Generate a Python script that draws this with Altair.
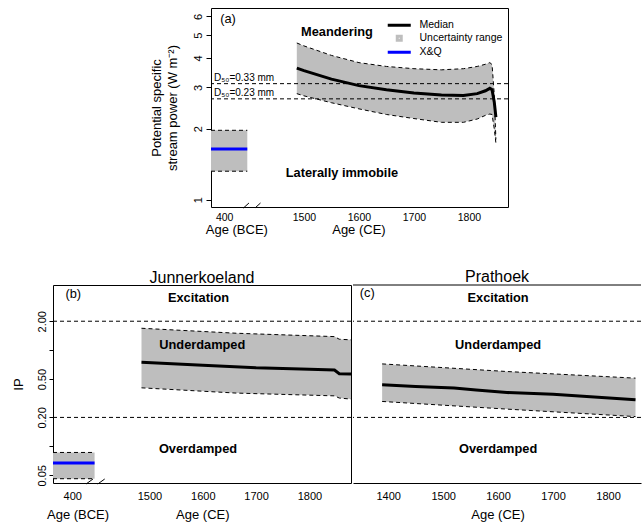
import altair as alt
import pandas as pd

FONT = "Liberation Sans"
GREY = "#BEBEBE"
DASH = [4, 3]
BCE_TICK = 1355   # axis position used for the 400 BCE reach
BCE_END = 1397    # right edge of the 400 BCE block

# ---- (a) potential specific stream power (W m-2) ----
sp_years = [1487, 1500, 1550, 1600, 1650, 1700, 1750, 1790, 1815, 1830, 1838, 1842, 1846, 1849]
sp_median = [3.62, 3.53, 3.25, 3.05, 2.93, 2.84, 2.78, 2.77, 2.82, 2.90, 2.97, 2.93, 2.60, 2.24]
sp_upper = [4.63, 4.50, 4.10, 3.82, 3.68, 3.60, 3.56, 3.60, 3.68, 3.76, 3.82, 3.75, 2.80, 1.80]
sp_lower = [2.82, 2.76, 2.58, 2.43, 2.30, 2.21, 2.13, 2.13, 2.20, 2.28, 2.31, 2.30, 2.00, 1.74]
sp_xq = [1.97, 1.64, 1.32]            # upper, X&Q value, lower
d50_values = [3.11, 2.68]
d50_labels = ["D\u2085\u2080=0.33 mm", "D\u2085\u2080=0.23 mm"]
sp_ticks = [1, 2, 3, 4, 5, 6]

# ---- (b) Junnerkoeland IP ----
jk_band_years = [1485, 1663, 1847, 1856, 1878]
jk_upper = [1.69, 1.50, 1.384, 1.30, 1.28]
jk_lower = [0.406, 0.358, 0.335, 0.318, 0.31]
jk_med_years = [1485, 1600, 1700, 1800, 1847, 1856, 1878]
jk_median = [0.747, 0.698, 0.655, 0.634, 0.622, 0.570, 0.566]
jk_xq = [0.0864, 0.067, 0.0461]

# ---- (c) Prathoek IP ----
pr_band_years = [1389, 1616, 1850]
pr_upper = [0.72, 0.60, 0.512]
pr_lower = [0.293, 0.244, 0.204]
pr_med_years = [1389, 1450, 1520, 1560, 1616, 1700, 1850]
pr_median = [0.436, 0.420, 0.405, 0.385, 0.363, 0.348, 0.305]

ip_thresholds = [2.0, 0.2]
ip_ticks = [0.05, 0.1, 0.2, 0.5, 1, 2]

legend_names = ["Median", "Uncertainty range", "X&Q"]
legend_colors = ["black", GREY, "blue"]
LINE_PATH = "M-3.29,0L3.29,0"
SQUARE_PATH = "M-0.57,-0.57L0.57,-0.57L0.57,0.57L-0.57,0.57Z"

W_A, H_A = 297, 199
W_B, H_B = 298, 198
W_C = 288

bce_expr = f"datum.value == {BCE_TICK} ? '400' : datum.label"


class Panel:
    """Shared scales and axes for every layer of one panel."""

    def __init__(self, xs, ys, xax, yax):
        self.xs, self.ys, self.xax, self.yax = xs, ys, xax, yax

    def X(self, field):
        return alt.X(field, type="quantitative", scale=self.xs, axis=self.xax)

    def Y(self, field):
        return alt.Y(field, type="quantitative", scale=self.ys, axis=self.yax)

    def band(self, years_b, upper, lower, years_m, median):
        dfb = pd.DataFrame({"year": years_b, "upper": upper, "lower": lower})
        dfm = pd.DataFrame({"year": years_m, "median": median})
        area = alt.Chart(dfb).mark_area(color=GREY, clip=True).encode(
            x=self.X("year"), y=self.Y("lower"), y2="upper:Q")
        edges = [
            alt.Chart(dfb).mark_line(color="black", strokeDash=DASH, strokeWidth=1, clip=True).encode(
                x=self.X("year"), y=self.Y(f))
            for f in ("upper", "lower")
        ]
        med = alt.Chart(dfm).mark_line(color="black", strokeWidth=3, clip=True).encode(
            x=self.X("year"), y=self.Y("median"))
        return [area] + edges + [med]

    def xq_block(self, x0, vals):
        df = pd.DataFrame({"x0": [x0], "x1": [BCE_END], "upper": [vals[0]], "mid": [vals[1]],
                           "lower": [vals[2]]})
        rect = alt.Chart(df).mark_rect(color=GREY).encode(
            x=self.X("x0"), x2="x1:Q", y=self.Y("lower"), y2="upper:Q")
        lines = [
            alt.Chart(df).mark_rule(color="black", strokeDash=DASH, strokeWidth=1).encode(
                x=self.X("x0"), x2="x1:Q", y=self.Y(f))
            for f in ("upper", "lower")
        ]
        blue = alt.Chart(df).mark_rule(color="blue", strokeWidth=3).encode(
            x=self.X("x0"), x2="x1:Q", y=self.Y("mid"))
        return [rect] + lines + [blue]

    def hlines(self, values):
        return alt.Chart(pd.DataFrame({"v": values})).mark_rule(
            color="black", strokeDash=DASH, strokeWidth=1).encode(y=self.Y("v"))

    def breaks(self, starts, width, h):
        df = pd.DataFrame({"x0": starts, "x1": [s + width for s in starts]})
        return alt.Chart(df).mark_rule(color="black", strokeWidth=1).encode(
            x=self.X("x0"), x2="x1:Q", y=alt.value(h + 1), y2=alt.value(h - 4))

    def texts(self, labels, xv, yv, weight, size=12.8):
        df = pd.DataFrame({"t": labels, "x": xv, "y": yv})
        return alt.Chart(df).mark_text(font=FONT, fontSize=size, fontWeight=weight, align="center",
                                       baseline="middle", color="black").encode(
            x=self.X("x"), y=self.Y("y"), text="t:N")

    def age_titles(self, labels, xv, ypix):
        df = pd.DataFrame({"t": labels, "x": xv})
        return alt.Chart(df).mark_text(font=FONT, fontSize=13, baseline="middle", color="black").encode(
            x=self.X("x"), y=alt.value(ypix), text="t:N")


# ---------- panel (a) ----------
pa = Panel(
    alt.Scale(domain=[1331, 1871], nice=False, zero=False),
    alt.Scale(type="log", domain=[0.93, 6.52], nice=False),
    alt.Axis(values=[BCE_TICK, 1500, 1600, 1700, 1800], format="d", labelExpr=bce_expr,
             ticks=False, tickSize=0, domain=False, labelPadding=5.5, labelFontSize=10.5, title=""),
    alt.Axis(values=sp_ticks, format="d", labelAngle=270, labelAlign="center", labelBaseline="bottom",
             tickSize=5, labelPadding=3, domain=False,
             title=["Potential specific", "stream power (W m\u207b\u00b2)"],
             titlePadding=13, titleLineHeight=16),
)

legend_spec = alt.Legend(title=" ", titleFontSize=4, titlePadding=3, orient="top-right", offset=5,
                         padding=0, rowPadding=-2, labelFont=FONT, labelFontSize=10.5, labelOffset=15,
                         symbolSize=49, symbolStrokeWidth=3)
legend_layer = alt.Chart(pd.DataFrame({"series": legend_names})).transform_filter("false").mark_point(
    filled=False, opacity=1).encode(
    color=alt.Color("series:N", scale=alt.Scale(domain=legend_names, range=legend_colors), legend=legend_spec),
    shape=alt.Shape("series:N", scale=alt.Scale(domain=legend_names, range=[LINE_PATH, SQUARE_PATH, LINE_PATH]),
                    legend=legend_spec),
)

d50_text = alt.Chart(pd.DataFrame({"t": d50_labels, "v": d50_values})).mark_text(
    font=FONT, fontSize=10, align="left", baseline="bottom", dy=-1, color="black").encode(
    x=alt.value(3), y=pa.Y("v"), text="t:N")

panel_a = alt.layer(
    *pa.band(sp_years, sp_upper, sp_lower, sp_years, sp_median),
    *pa.xq_block(1331, sp_xq),
    pa.hlines(d50_values),
    d50_text,
    pa.breaks([1390, 1411], 10, H_A),
    pa.texts(["(a)"], [1362], [5.87], "normal"),
    pa.texts(["Meandering", "Laterally immobile"], [1560, 1569], [5.17, 1.30], "bold"),
    pa.age_titles(["Age (BCE)", "Age (CE)"], [1378, 1600], H_A + 22.5),
    legend_layer,
).properties(width=W_A, height=H_A)

spacer = alt.Chart(pd.DataFrame({"s": [0]})).mark_point(opacity=0, size=1).properties(
    width=96, height=10, view=alt.ViewBackground(strokeOpacity=0))

# ---------- panel (b) ----------
ip_scale = alt.Scale(type="log", domain=[0.0416, 4.76], nice=False)
pb = Panel(
    alt.Scale(domain=[1319, 1878], nice=False, zero=False),
    ip_scale,
    alt.Axis(values=[BCE_TICK, 1500, 1600, 1700, 1800], format="d", labelExpr=bce_expr,
             ticks=False, tickSize=0, domain=False, labelPadding=7.5, title=""),
    alt.Axis(values=ip_ticks, format=".2f",
             labelExpr="(datum.value > 0.09 && datum.value < 0.11) || datum.value == 1 ? '' : datum.label",
             labelAngle=270, labelAlign="center", labelBaseline="bottom",
             tickSize=4, labelPadding=2, domain=False, title="IP", titlePadding=10.5),
)

title_b = alt.TitleParams("Junnerkoeland", baseline="alphabetic", offset=-13.6)
title_c = alt.TitleParams("Prathoek", baseline="alphabetic", offset=-13.6)

panel_b = alt.layer(
    *pb.band(jk_band_years, jk_upper, jk_lower, jk_med_years, jk_median),
    *pb.xq_block(1319, jk_xq),
    pb.hlines(ip_thresholds),
    pb.breaks([1381, 1403], 13, H_B),
    pb.texts(["(b)"], [1357], [3.84], "normal"),
    pb.texts(["Excitation", "Underdamped", "Overdamped"], [1592, 1599, 1591], [3.52, 1.135, 0.0944], "bold"),
    pb.age_titles(["Age (BCE)", "Age (CE)"], [1366, 1600], H_B + 32.3),
).properties(width=W_B, height=H_B, title=title_b)

# ---------- panel (c) ----------
pc = Panel(
    alt.Scale(domain=[1336, 1860], nice=False, zero=False),
    ip_scale,
    alt.Axis(values=[1400, 1500, 1600, 1700, 1800], format="d", ticks=False, tickSize=0,
             domain=True, domainColor="black", domainWidth=1, labelPadding=7.5, title=""),
    None,
)

panel_c = alt.layer(
    *pc.band(pr_band_years, pr_upper, pr_lower, pr_med_years, pr_median),
    pc.hlines(ip_thresholds),
    alt.Chart(pd.DataFrame({"t": [0]})).mark_rule(color="black", strokeWidth=1).encode(y=alt.value(0)),
    pc.texts(["(c)"], [1362], [3.94], "normal"),
    pc.texts(["Excitation", "Underdamped", "Overdamped"], [1600, 1600, 1600], [3.52, 1.135, 0.0944], "bold"),
    pc.age_titles(["Age (CE)"], [1600], H_B + 32.3),
).properties(width=W_C, height=H_B, view=alt.ViewBackground(strokeOpacity=0), title=title_c)

row1 = alt.hconcat(spacer, panel_a, spacing=0).resolve_scale(color="independent", shape="independent")
row2 = alt.hconcat(panel_b, panel_c, spacing=0)

chart = alt.vconcat(row1, row2, spacing=32).resolve_scale(
    color="independent", shape="independent"
).properties(
    padding={"left": 12, "top": 7, "right": 0, "bottom": 0}
).configure(font=FONT).configure_view(
    stroke="black", strokeWidth=1
).configure_axis(
    labelFont=FONT, titleFont=FONT, labelColor="black", titleColor="black", tickColor="black",
    grid=False, labelFontSize=11, titleFontSize=13, titleFontWeight="normal"
).configure_title(
    font=FONT, fontSize=16, fontWeight="normal", color="black", frame="group"
)

chart.save("out.html", embed_options={"renderer": "svg", "actions": False})
